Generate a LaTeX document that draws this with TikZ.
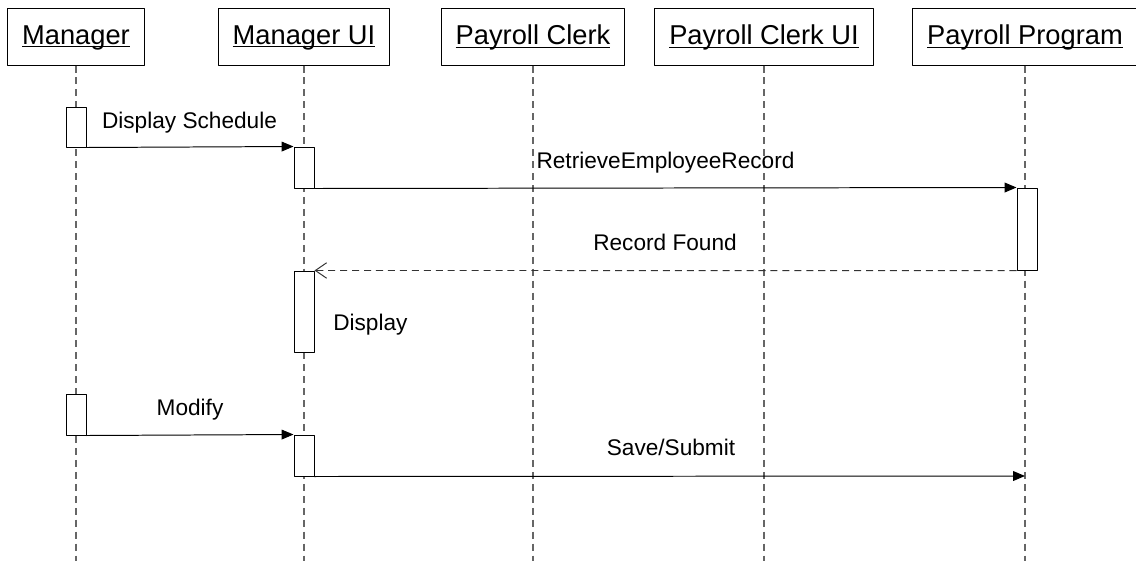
\documentclass[tikz,border=0pt]{standalone}
\usepackage{fontspec}
\setmainfont{Liberation Sans}
\usetikzlibrary{arrows.meta,positioning}
\begin{document}
\begin{tikzpicture}[x=0.025cm,y=-0.025cm,line join=round,>={Triangle[length=8.5pt,width=7pt]}]
        \tikzset{head/.style={draw,line width=0.7pt,font=\fontsize{19.4}{22}\selectfont,inner xsep=10.3pt,minimum height=1.425cm},
                 act/.style={draw,fill=white,line width=0.7pt,minimum width=0.5cm,inner sep=0pt},
                 life/.style={draw=black!60,line width=0.8pt,dash pattern=on 5pt off 3.5pt},
                 msg/.style={->,line width=0.7pt},
                 ret/.style={-{Straight Barb[length=8pt,width=11pt]},draw=black!80,line width=0.7pt,dash pattern=on 5pt off 3.5pt},
                 lbl/.style={font=\fontsize{16.1}{19}\selectfont,inner sep=0pt,anchor=base}}
        \useasboundingbox (0,0) rectangle (1136,561);
        % objects and lifelines
        \foreach \n/\x/\t in {mgr/76/Manager, mgrui/304/Manager UI, clerk/533/Payroll Clerk, clerkui/764/Payroll Clerk UI, prog/1025/Payroll Program}{
            \node[head] (\n) at (\x,36.5) {\underbar{\t}};
            \coordinate (\n-end) at (\x,561);
            \draw[life] (\n.south) -- (\n-end);
        }
        % activations
        \node[act,minimum height=1cm]     (a1) at (76,127) {};
        \node[act,minimum height=1.025cm] (a2) at (304,167.5) {};
        \node[act,minimum height=2.05cm]  (a3) at (1027,229) {};
        \node[act,minimum height=2.025cm] (a4) at (304,311.5) {};
        \node[act,minimum height=1.025cm] (a5) at (76,414.5) {};
        \node[act,minimum height=1.025cm] (a6) at (304,455.5) {};
        \coordinate (save) at (1025,476);
        % messages
        \draw[msg] (a1.south east) -- (a2.north west);
        \draw[msg] (a2.south east) -- (a3.north west);
        \draw[ret] (a3.south west) -- (a4.north east);
        \draw[msg] (a5.south east) -- (a6.north west);
        \draw[msg] (a6.south east) -- (save);
        \node[lbl] (l1) at (189.5,128) {Display Schedule};
        \node[lbl] (l2) at (665.5,168) {RetrieveEmployeeRecord};
        \node[lbl] (l3) at (665,250) {Record Found};
        \node[lbl,anchor=base west] (l4) at (333,330) {Display};
        \node[lbl] (l5) at (190,415) {Modify};
        \node[lbl] (l6) at (671,455) {Save/Submit};
\end{tikzpicture}
\end{document}
